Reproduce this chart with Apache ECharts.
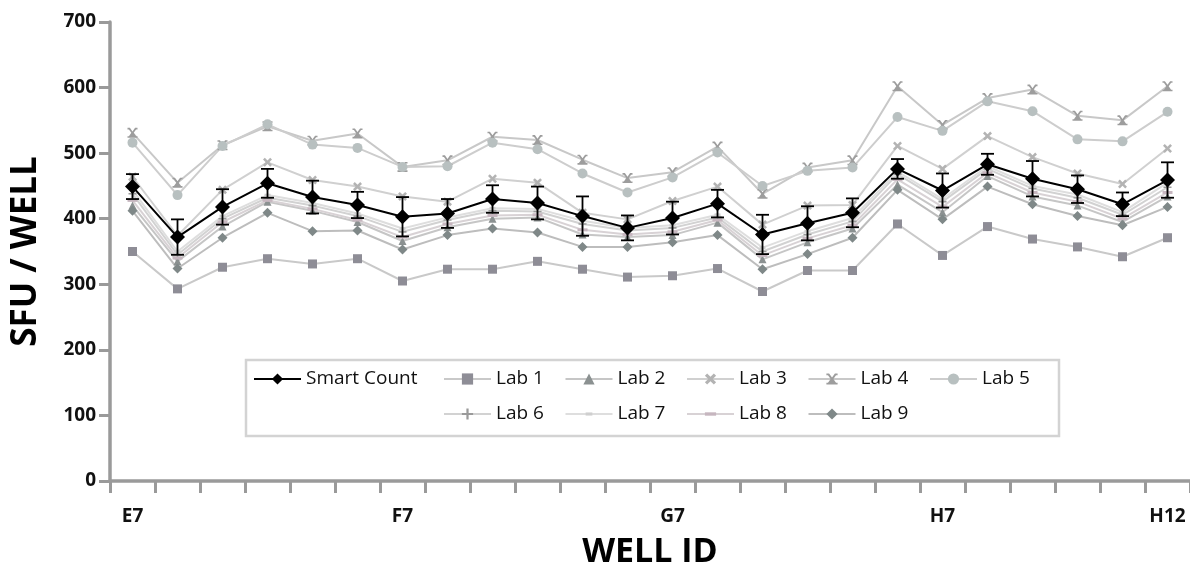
<!DOCTYPE html>
<html>
<head>
<meta charset="utf-8">
<title>SFU / WELL by well</title>
<script src="https://cdn.jsdelivr.net/npm/echarts@6/dist/echarts.min.js"></script>
<style>
  html, body { margin: 0; padding: 0; background: #fff; }
  #chart { width: 1190px; height: 574px; }
</style>
</head>
<body>
<div id="chart"></div>
<script>
// Well IDs along the x axis
const wells = [
  'E7', 'E8', 'E9', 'E10', 'E11', 'E12',
  'F7', 'F8', 'F9', 'F10', 'F11', 'F12',
  'G7', 'G8', 'G9', 'G10', 'G11', 'G12',
  'H7', 'H8', 'H9', 'H10', 'H11', 'H12'
];
// Wells that carry a printed label
const labelledWells = ['E7', 'F7', 'G7', 'H7', 'H12'];

// Spot counts per well (SFU / well)
const smartCount    = [449, 372, 418, 454, 433, 421, 403, 408, 430, 424, 404, 386, 401, 423, 376, 393, 409, 476, 443, 483, 461, 445, 422, 459];
const smartCountErr = [19, 27, 27, 22, 25, 20, 30, 22, 21, 25, 30, 19, 25, 21, 30, 26, 22, 15, 26, 16, 27, 21, 18, 27];
const lab1 = [350, 293, 326, 339, 331, 339, 305, 323, 323, 335, 323, 311, 313, 324, 289, 321, 321, 392, 344, 388, 369, 357, 342, 371];
const lab2 = [420, 335, 388, 426, 412, 395, 366, 387, 400, 402, 376, 372, 375, 394, 338, 364, 385, 452, 410, 465, 434, 420, 395, 434];
const lab3 = [464, 374, 444, 486, 459, 449, 434, 426, 461, 455, 409, 399, 427, 449, 391, 420, 421, 511, 476, 526, 494, 469, 453, 507];
const lab4 = [531, 455, 512, 541, 519, 530, 479, 489, 525, 520, 490, 462, 471, 510, 438, 478, 489, 602, 543, 584, 597, 557, 550, 602];
const lab5 = [516, 436, 511, 544, 513, 508, 479, 480, 516, 506, 469, 440, 463, 501, 450, 473, 478, 555, 534, 579, 564, 521, 518, 563];
const lab6 = [438, 345, 400, 432, 420, 404, 380, 398, 412, 411, 392, 382, 386, 402, 350, 376, 396, 468, 426, 476, 446, 432, 406, 448];
const lab7 = [444, 350, 404, 436, 424, 408, 385, 402, 416, 415, 397, 386, 390, 406, 356, 381, 401, 472, 430, 480, 450, 437, 410, 455];
const lab8 = [428, 340, 395, 428, 415, 398, 372, 392, 405, 406, 383, 376, 380, 398, 344, 370, 390, 460, 418, 470, 440, 426, 400, 440];
const lab9 = [412, 324, 371, 409, 381, 382, 353, 375, 385, 379, 357, 357, 364, 375, 323, 346, 371, 444, 399, 449, 422, 404, 390, 418];

const FONT = '"Open Sans", "Noto Sans", sans-serif';

// Marker shapes (the leading moves pin the dash glyphs to a square box)
const SYM_X = 'path://M2,0L5,3L8,0L10,2L7,5L10,8L8,10L5,7L2,10L0,8L3,5L0,2Z';
const SYM_XBAR = 'path://M0,0H10V1.6H8.6L6.2,5L8.6,8.4H10V10H0V8.4H1.4L3.8,5L1.4,1.6H0Z' +
                 'M2.4,0L5,3.6L7.6,0Z';
const SYM_PLUS = 'path://M4,0H6V4H10V6H6V10H4V6H0V4H4Z';
const SYM_DASH_SHORT = 'path://M0,0M10,10M2,3.6H8V6.4H2Z';
const SYM_DASH_LONG = 'path://M0,0M10,10M0,3.5H10V6.5H0Z';

function labSeries(name, data, symbol, size, markColor, lineColor) {
  return {
    name: name,
    type: 'line',
    data: data,
    symbol: symbol,
    symbolSize: size,
    showSymbol: true,
    itemStyle: { color: markColor },
    lineStyle: { color: lineColor, width: 2 },
    emphasis: { disabled: true },
    z: 2
  };
}

const series = [
  labSeries('Lab 1', lab1, 'rect', 9, '#8e8d96', '#c9c9c9'),
  labSeries('Lab 2', lab2, 'triangle', 8, '#8b9191', '#c6c6c6'),
  labSeries('Lab 3', lab3, SYM_X, 9, '#b3b3b3', '#d0d0d0'),
  labSeries('Lab 4', lab4, SYM_XBAR, 10, '#9d9d9d', '#c8c8c8'),
  labSeries('Lab 5', lab5, 'circle', 10, '#b8c0c0', '#cdcdcd'),
  labSeries('Lab 6', lab6, SYM_PLUS, 8, '#9a9a9a', '#d2d2d2'),
  labSeries('Lab 7', lab7, SYM_DASH_SHORT, 10, '#cfcfcf', '#dedede'),
  labSeries('Lab 8', lab8, SYM_DASH_LONG, 10, '#c6b6bf', '#d8d2d5'),
  labSeries('Lab 9', lab9, 'diamond', 10, '#7f8888', '#bdbdbd'),
  {
    name: 'Smart Count error',
    type: 'custom',
    data: smartCount.map((v, i) => [i, v - smartCountErr[i], v + smartCountErr[i]]),
    renderItem: function (params, api) {
      const lo = api.coord([api.value(0), api.value(1)]);
      const hi = api.coord([api.value(0), api.value(2)]);
      const cap = 6.5;
      const style = { stroke: '#000', lineWidth: 1.8 };
      return {
        type: 'group',
        children: [
          { type: 'line', shape: { x1: hi[0], y1: hi[1], x2: lo[0], y2: lo[1] }, style: style },
          { type: 'line', shape: { x1: hi[0] - cap, y1: hi[1], x2: hi[0] + cap, y2: hi[1] }, style: style },
          { type: 'line', shape: { x1: lo[0] - cap, y1: lo[1], x2: lo[0] + cap, y2: lo[1] }, style: style }
        ]
      };
    },
    z: 3,
    silent: true
  },
  {
    name: 'Smart Count',
    type: 'line',
    data: smartCount,
    symbol: 'diamond',
    symbolSize: 15,
    itemStyle: { color: '#000' },
    lineStyle: { color: '#000', width: 2 },
    emphasis: { disabled: true },
    z: 4
  }
];

// One legend per entry, laid out on a two-row grid
const legendRow1 = 379, legendRow2 = 414, colStep = 121.5, col1 = 443;
const legendPlaces = [
  ['Smart Count', 253, legendRow1],
  ['Lab 1', col1, legendRow1],
  ['Lab 2', col1 + colStep, legendRow1],
  ['Lab 3', col1 + 2 * colStep, legendRow1],
  ['Lab 4', col1 + 3 * colStep, legendRow1],
  ['Lab 5', col1 + 4 * colStep, legendRow1],
  ['Lab 6', col1, legendRow2],
  ['Lab 7', col1 + colStep, legendRow2],
  ['Lab 8', col1 + 2 * colStep, legendRow2],
  ['Lab 9', col1 + 3 * colStep, legendRow2]
];
const legends = legendPlaces.map(([name, x, cy]) => ({
  data: [name],
  left: x,
  top: cy - 10,
  padding: 0,
  itemWidth: 47,
  itemHeight: 14,
  itemGap: 0,
  selectedMode: false,
  textStyle: { fontFamily: FONT, fontSize: 19, color: '#111', lineHeight: 20, padding: [0, 0, 0, 0] }
}));

const axisGray = '#9a9a9a';

const option = {
  animation: false,
  backgroundColor: '#fff',
  grid: { left: 110, width: 1082, top: 22, bottom: 86, containLabel: false },
  legend: legends,
  graphic: [{
    type: 'rect',
    z: 0,
    shape: { x: 246, y: 360, width: 813, height: 76 },
    style: { fill: '#fff', stroke: '#d3d3d3', lineWidth: 2.5 }
  }],
  xAxis: {
    type: 'category',
    data: wells,
    boundaryGap: true,
    name: 'WELL ID',
    nameLocation: 'middle',
    nameGap: 54,
    nameTextStyle: { fontFamily: FONT, fontSize: 34, fontWeight: 'bold', color: '#000' },
    axisLine: { lineStyle: { color: axisGray, width: 3.5 } },
    axisTick: { show: true, interval: 0, length: 12, lineStyle: { color: axisGray, width: 3 } },
    axisLabel: {
      interval: 0,
      formatter: v => (labelledWells.includes(v) ? v : ''),
      margin: 26,
      fontFamily: FONT,
      fontSize: 19,
      fontWeight: 'bold',
      color: '#111'
    },
    splitLine: { show: false }
  },
  yAxis: {
    type: 'value',
    min: 0,
    max: 700,
    interval: 100,
    name: 'SFU / WELL',
    nameLocation: 'middle',
    nameGap: 66,
    nameRotate: 90,
    nameTextStyle: { fontFamily: FONT, fontSize: 35, fontWeight: 'bold', color: '#000' },
    axisLine: { show: true, lineStyle: { color: axisGray, width: 3.5 } },
    axisTick: { show: true, length: 11, lineStyle: { color: axisGray, width: 3 } },
    axisLabel: { margin: 14, fontFamily: FONT, fontSize: 19, fontWeight: 'bold', color: '#111' },
    splitLine: { show: false }
  },
  series: series
};

const chart = echarts.init(document.getElementById('chart'), null, { renderer: 'canvas' });
chart.setOption(option);
</script>
</body>
</html>
